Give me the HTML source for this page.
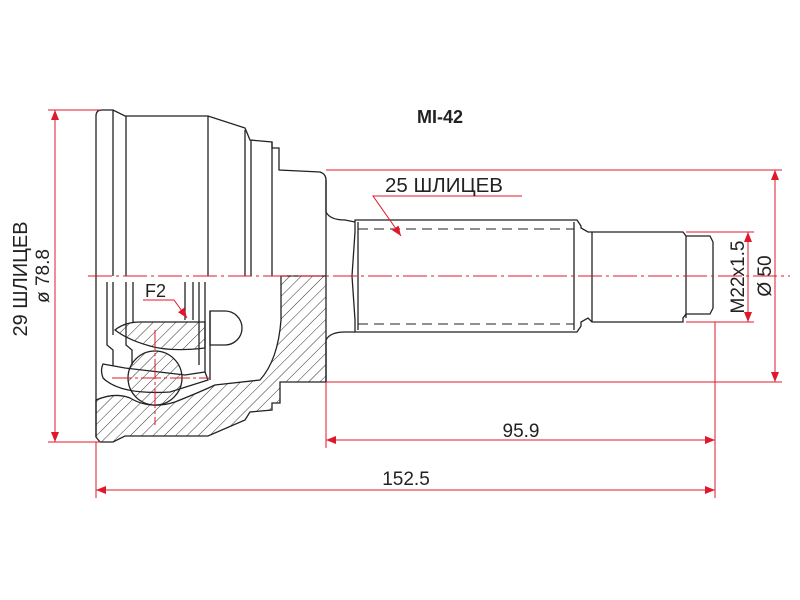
<!DOCTYPE html>
<html><head><meta charset="utf-8"><style>
html,body{margin:0;padding:0;background:#fff;}
svg{display:block;}
text{font-family:"Liberation Sans",Arial,sans-serif;}
</style></head><body>
<svg width="800" height="600" viewBox="0 0 800 600" xmlns="http://www.w3.org/2000/svg">
<defs>
<pattern id="h" width="8" height="8" patternUnits="userSpaceOnUse" patternTransform="rotate(45)">
<line x1="0" y1="0" x2="0" y2="8" stroke="#333" stroke-width="1"/>
</pattern>
<marker id="a" markerWidth="10" markerHeight="8" refX="10" refY="4" orient="auto" markerUnits="userSpaceOnUse">
<path d="M0,0 L10,4 L0,8 Z" fill="#e0182b"/>
</marker>
</defs>
<g fill="none" stroke="#222" stroke-width="1.3">
<path d="M281,276 L326,276 L326,382 L280,382 L280,403 L272,403 L272,410 L250,412 L245,420 L208,436 L125,436 L113,442 L100,442 L96,437 L96,400 Q115,392 130,398 Q150,410 175,402 Q200,392 215,385 L260,380 Q278,360 281,320 Z" fill="url(#h)"/>
<path d="M96,437 L96,116 Q96,110 102,110 L113,110 L125,116 L208,116 L245,128 L250,140 L272,142 L272,148 L279,148 L279,170 L320,172 Q326,174 326,180 L326,212 Q330,220 345,220 L355,222"/>
<line x1="113" y1="110" x2="113" y2="276"/>
<line x1="126" y1="116" x2="126" y2="276"/>
<line x1="208" y1="116" x2="208" y2="276"/>
<line x1="245" y1="130" x2="245" y2="276"/>
<line x1="251" y1="140" x2="251" y2="276"/>
<line x1="272" y1="142" x2="272" y2="276"/>
<line x1="326" y1="180" x2="326" y2="276"/>
<path d="M355,332 L345,332 Q330,332 326,340 L326,382"/>
<path d="M107,282 L107,345 L113,350 L113,372"/>
<path d="M113,282 L113,335"/>
<path d="M126,282 L126,345 L132,350 L132,365"/>
<line x1="133" y1="282" x2="133" y2="322"/>
<line x1="185" y1="282" x2="185" y2="320"/>
<line x1="193" y1="282" x2="193" y2="320"/>
<line x1="199" y1="282" x2="199" y2="365"/>
<line x1="205" y1="282" x2="205" y2="375"/>
<path d="M115,330 Q125,322 140,322 L205,322 L205,348 Q170,352 150,346 Q128,340 115,330 Z" fill="url(#h)"/>
<path d="M103,364 L125,368 L185,375 L205,372 L208,380 L170,392 Q120,395 103,378 Q100,370 103,364 Z" fill="#fff"/>
<circle cx="155" cy="378" r="27" fill="url(#h)" stroke="#222"/>
<path d="M210,311 L225,311 A17,17 0 0 1 225,345 L210,345 Z" fill="#fff"/>
<line x1="210" y1="311" x2="210" y2="380"/>
<path d="M355,220 L577,220 L581,226 L581,228 L588,232 L592,232 L683,232 L686,236 L710,236 L713,242 L713,308 L710,314 L686,314 L683,318 L683,322 L592,322 L588,318 L581,322 L581,326 L577,332 L355,332 L355,320 L352,276 L355,232 Z"/>
<line x1="592" y1="232" x2="592" y2="322"/>
<line x1="686" y1="236" x2="686" y2="318"/>
<line x1="358" y1="222" x2="358" y2="330"/>
<line x1="574" y1="222" x2="574" y2="330"/>
<line x1="358" y1="229" x2="574" y2="229" stroke-dasharray="10,6" stroke-width="1"/>
<line x1="358" y1="324" x2="574" y2="324" stroke-dasharray="10,6" stroke-width="1"/>
</g>
<g stroke="#e0182b" stroke-width="1" fill="none">
<line x1="88" y1="276" x2="790" y2="276" stroke-dasharray="24,4,3,4"/>
<line x1="155" y1="330" x2="155" y2="425" stroke-dasharray="20,3,3,3"/>
<line x1="112" y1="378" x2="210" y2="378" stroke-dasharray="20,3,3,3"/>
<line x1="48" y1="110" x2="100" y2="110"/>
<line x1="48" y1="442" x2="100" y2="442"/>
<line x1="326" y1="170" x2="782" y2="170"/>
<line x1="326" y1="382" x2="782" y2="382"/>
<line x1="686" y1="232" x2="754" y2="232"/>
<line x1="686" y1="322" x2="754" y2="322"/>
<line x1="96" y1="442" x2="96" y2="498"/>
<line x1="326" y1="382" x2="326" y2="448"/>
<line x1="715" y1="322" x2="715" y2="498"/>
<line x1="775" y1="170" x2="775" y2="382" marker-end="url(#a)"/>
<line x1="775" y1="382" x2="775" y2="170" marker-end="url(#a)"/>
<line x1="748" y1="232" x2="748" y2="322" marker-end="url(#a)"/>
<line x1="748" y1="322" x2="748" y2="232" marker-end="url(#a)"/>
<line x1="55" y1="442" x2="55" y2="110" marker-end="url(#a)"/>
<line x1="55" y1="110" x2="55" y2="442" marker-end="url(#a)"/>
<line x1="326" y1="440" x2="715" y2="440" marker-end="url(#a)"/>
<line x1="715" y1="440" x2="326" y2="440" marker-end="url(#a)"/>
<line x1="96" y1="490" x2="715" y2="490" marker-end="url(#a)"/>
<line x1="715" y1="490" x2="96" y2="490" marker-end="url(#a)"/>
<polyline points="522,196 373,196 401,236" marker-end="url(#a)"/>
<polyline points="143,300 174,300 187,318" marker-end="url(#a)"/>
</g>
<g fill="#222" font-size="19">
<text x="440" y="123" text-anchor="middle" font-weight="bold" font-size="18">MI-42</text>
<text x="385" y="192" font-size="20.5">25 ШЛИЦЕВ</text>
<text x="145" y="297" font-size="18">F2</text>
<text x="521" y="437" text-anchor="middle">95.9</text>
<text x="406" y="485" text-anchor="middle">152.5</text>
<text transform="translate(744,277) rotate(-90)" text-anchor="middle">M22x1.5</text>
<text transform="translate(771,276) rotate(-90)" text-anchor="middle">Ø 50</text>
<text transform="translate(49,276) rotate(-90)" text-anchor="middle">ø 78.8</text>
<text transform="translate(27,279) rotate(-90)" text-anchor="middle" font-size="20">29 ШЛИЦЕВ</text>
</g>
</svg>
</body></html>
